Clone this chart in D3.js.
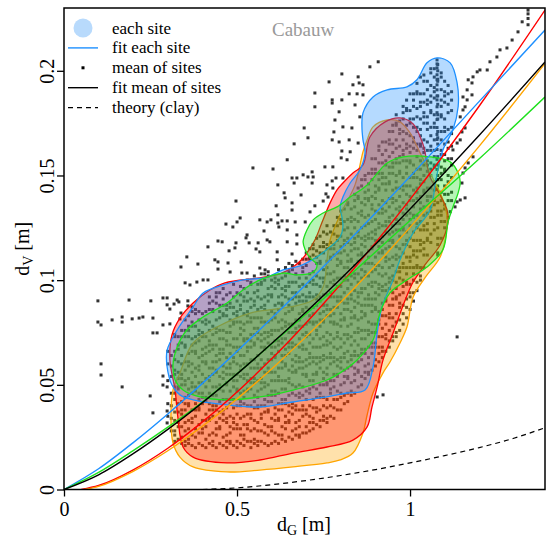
<!DOCTYPE html>
<html>
<head>
<meta charset="utf-8">
<script src="https://cdn.jsdelivr.net/npm/d3@7"></script>
<style>
  body { margin: 0; background: #fff; }
  svg text { font-family: "Liberation Serif", Tinos, "Times New Roman", "DejaVu Serif", serif; }
</style>
</head>
<body>
<svg id="chart" width="550" height="544"></svg>
<script>
'use strict';

// ---- data ----

// scattered "mean of sites" points outside the dense core, [dG, dV] in m
const outerPoints = [
  [0.884,0.2019],[0.908,0.2043],[0.803,0.1985],[0.850,0.1971],[0.766,0.1947],[0.835,0.1933],[0.853,0.1942],
  [0.864,0.1933],[0.725,0.1894],[0.824,0.189],[0.847,0.189],[0.864,0.1885],[0.775,0.1861],[0.775,0.1846],
  [0.803,0.1861],[0.725,0.1828],[0.841,0.1837],[0.795,0.1804],[0.855,0.178],[0.783,0.1765],[0.806,0.1732],
  [0.832,0.1727],[0.694,0.1727],[0.780,0.1708],[0.775,0.167],[0.705,0.168],[0.795,0.166],[0.824,0.167],
  [0.850,0.1655],[0.665,0.1651],[0.803,0.1617],[0.827,0.1613],[0.801,0.1584],[0.645,0.1575],[0.818,0.1575],
  [0.546,0.1536],[0.604,0.1531],[0.754,0.1541],[0.777,0.1541],[0.717,0.1517],[0.705,0.1493],[0.720,0.1493],
  [0.659,0.1488],[0.673,0.1488],[0.691,0.1503],[0.618,0.1455],[0.665,0.1464],[0.717,0.1464],[0.786,0.1488],
  [0.775,0.1474],[0.806,0.1488],[0.760,0.1455],[0.777,0.144],[0.636,0.1417],[0.685,0.1407],[0.757,0.1412],
  [0.749,0.1378],[0.763,0.1397],[0.639,0.1393],[0.659,0.1369],[0.497,0.1378],[0.613,0.1355],[0.725,0.1355],
  [0.711,0.1326],[0.659,0.1335],[0.618,0.1312],[0.630,0.1283],[0.645,0.1283],[0.668,0.1278],[0.697,0.1278],
  [0.618,0.1273],[0.621,0.1254],[0.598,0.1288],[0.587,0.1278],[0.566,0.1288],[0.509,0.1297],[0.500,0.1278],
  [0.468,0.1268],[0.488,0.1254],[0.578,0.1235],[0.645,0.124],[0.529,0.1216],[0.673,0.1216],[0.526,0.1202],
  [0.587,0.1192],[0.645,0.1183],[0.445,0.1187],[0.457,0.1183],[0.497,0.1178],[0.561,0.1178],[0.595,0.1183],
  [0.535,0.1178],[0.673,0.1173],[0.416,0.1159],[0.494,0.1154],[0.555,0.1149],[0.566,0.1135],[0.477,0.114],
  [0.616,0.1135],[0.659,0.1125],[0.355,0.1111],[0.436,0.1097],[0.445,0.1087],[0.616,0.1097],[0.512,0.1087],
  [0.474,0.1082],[0.387,0.1077],[0.338,0.1063],[0.566,0.1058],[0.581,0.1049],[0.445,0.1053],[0.480,0.1039],
  [0.514,0.1034],[0.529,0.1034],[0.402,0.1001],[0.416,0.1001],[0.384,0.0991],[0.350,0.0987],[0.364,0.0977],
  [0.298,0.0915],[0.286,0.0915],[0.188,0.0905],[0.251,0.0901],[0.327,0.0905],[0.332,0.0896],[0.098,0.0901],
  [0.298,0.0882],[0.306,0.0862],[0.318,0.0886],[0.358,0.0901],[0.358,0.0877],[0.370,0.0872],[0.338,0.0843],
  [0.098,0.08],[0.107,0.0786],[0.139,0.081],[0.168,0.0824],[0.168,0.08],[0.197,0.0815],[0.217,0.0819],
  [0.228,0.0824],[0.257,0.0819],[0.286,0.0786],[0.306,0.0791],[0.257,0.0748],[0.269,0.0748],[0.335,0.0815],
  [0.107,0.06],[0.107,0.0547],[0.168,0.049],[0.249,0.0447],[0.257,0.0366],[0.286,0.0542],[0.286,0.0499],
  [0.298,0.049],[0.298,0.0375],[0.298,0.0318],
  [1.341,0.229],[1.341,0.2272],[1.341,0.225],[1.341,0.222],[1.324,0.2234],[1.312,0.2186],[1.295,0.2147],
  [1.280,0.2109],[1.260,0.21],[1.251,0.2066],[1.231,0.2043],[1.223,0.2004],[1.202,0.2004],[1.194,0.1995],
  [1.182,0.1971],[1.168,0.1957],[1.179,0.1942],[1.165,0.1909],[1.179,0.1885],[1.153,0.1875],[1.165,0.1861],
  [1.159,0.1828],[1.153,0.1813],[1.145,0.178],[1.159,0.1727],[1.150,0.1708],[1.145,0.167],[1.136,0.1655],
  [1.124,0.1622],[1.182,0.1589],[1.168,0.156],[1.159,0.1536],[1.153,0.1512],[1.150,0.1464],[1.159,0.1393],
  [1.145,0.1383],[1.136,0.1374],[1.130,0.135],[1.116,0.1327],[1.136,0.0729],[0.905,0.0442],[0.922,0.0452],
  [1.078,0.2052],[1.078,0.2033],[1.078,0.2014],[1.078,0.1981],[1.078,0.1957],[1.078,0.1933],[1.078,0.1909],
  [1.078,0.188],[1.078,0.1861],[1.078,0.1828],[1.078,0.18],[1.078,0.1767],[1.078,0.1729],[1.078,0.1696],
  [1.078,0.1672],[1.078,0.1624],[1.078,0.1577],[1.078,0.1529],[1.078,0.1481],[1.078,0.1433]
];

// dense core of "mean of sites": one dG column each, dV values in mm
const cloudG = [
  0.30,0.31,0.32,0.33,0.34,0.35,0.36,0.37,0.38,0.39,0.40,0.41,0.42,0.43,0.44,0.45,0.46,0.47,0.48,0.49,
  0.50,0.51,0.52,0.53,0.54,0.55,0.56,0.57,0.58,0.59,0.60,0.61,0.62,0.63,0.64,0.65,0.66,0.67,0.68,0.69,
  0.70,0.71,0.72,0.73,0.74,0.75,0.76,0.77,0.78,0.79,0.80,0.81,0.82,0.83,0.84,0.85,0.86,0.87,0.88,0.89,
  0.90,0.91,0.92,0.93,0.94,0.95,0.96,0.97,0.98,0.99,1.00,1.01,1.02,1.03,1.04,1.05,1.06,1.07,1.08,1.09,
  1.10,1.11,1.12
];
const cloudV = [
  "35 41 52 60 66",
  "28 34 40 46 54 59 64",
  "23 26 28 33 37 43 46 49 55 57 62 66 73 74",
  "24 30 32 37 41 48 49 53 56 61 67 69 73",
  "22 25 30 36 38 42 50 53 55 60 64 70 73 76",
  "21 23 28 32 38 41 44 50 52 57 61 68 69 73 76 81",
  "22 24 29 33 40 41 45 48 53 59 61 65 73 76 78 83",
  "21 26 32 34 38 46 49 51 56 60 66 69 72 78 80 85",
  "20 25 29 35 38 41 47 49 54 58 65 66 70 73 78 84 86",
  "22 27 31 38 39 43 46 51 57 59 63 71 74 76 81 85",
  "21 27 29 33 41 44 46 51 55 61 64 67 73 75 80 84",
  "20 24 30 33 36 42 44 49 53 60 61 65 68 73 79 81 85",
  "22 26 33 34 38 41 46 52 54 58 66 69 71 76 80 86 89 92",
  "21 23 27 35 38 40 45 49 55 58 61 67 69 74 78 85 86 90",
  "20 26 29 32 38 40 45 49 56 57 61 64 69 75 77 81 89 92 94",
  "22 29 30 34 37 42 48 50 54 62 65 67 72 76 82 85 88 94",
  "21 25 33 36 38 43 47 53 56 59 65 67 72 76 83 84 88 91 96",
  "20 23 26 32 34 39 43 50 51 55 58 63 69 71 75 83 86 88 93",
  "22 23 27 30 35 41 43 47 55 58 60 65 69 75 78 81 87 89 94",
  "21 29 32 34 39 43 49 52 55 61 63 68 72 79 80 84 87 92 98",
  "20 23 29 31 36 40 47 48 52 55 60 66 68 72 80 83 85 90 94",
  "22 26 29 34 40 42 46 54 57 59 64 68 74 77 80 86 88 93 97",
  "21 24 26 31 35 41 44 47 53 55 60 64 71 72 76 79 84 90 92 96",
  "23 29 31 36 40 47 48 52 55 60 66 68 72 80 83 85 90 94 100",
  "20 23 28 34 36 40 48 51 53 58 62 68 71 74 80 82 87 91 98 99",
  "22 24 29 33 39 42 45 51 53 58 62 69 70 74 77 82 88 90 94 102",
  "21 23 28 32 39 40 44 47 52 58 60 64 72 75 77 82 86 92 95 98",
  "23 28 34 36 40 48 51 53 58 62 68 71 74 80 82 87 91 98 99 103",
  "22 27 31 37 40 43 49 51 56 60 67 68 72 75 80 86 88 92 100 103",
  "21 26 30 37 38 42 45 50 56 58 62 70 73 75 80 84 90 93 96 102 104",
  "22 28 30 34 42 45 47 52 56 62 65 68 74 76 81 85 92 93 97 100",
  "23 27 33 36 39 45 47 52 56 63 64 68 71 76 82 84 88 96 99 101",
  "22 26 33 34 38 41 46 52 54 58 66 69 71 76 80 86 89 92 98 100 105",
  "24 26 30 38 41 43 48 52 58 61 64 70 72 77 81 88 89 93 96 101",
  "23 29 32 35 41 43 48 52 59 60 64 67 72 78 80 84 92 95 97 102 106",
  "25 32 33 37 40 45 51 53 57 65 68 70 75 79 85 88 91 97 99 104 108",
  "24 28 36 39 41 46 50 56 59 62 68 70 75 79 86 87 91 94 99 105 107",
  "26 29 32 38 40 45 49 56 57 61 64 69 75 77 81 89 92 94 99 103 109",
  "25 26 30 33 38 44 46 50 58 61 63 68 72 78 81 84 90 92 97 101 108",
  "27 35 38 40 45 49 55 58 61 67 69 74 78 85 86 90 93 98 104 106 110",
  "27 30 36 38 43 47 54 55 59 62 67 73 75 79 87 90 92 97 101 107 110 113",
  "28 32 35 40 46 48 52 60 63 65 70 74 80 83 86 92 94 99 103 110 111 115",
  "29 32 34 39 43 49 52 55 61 63 68 72 79 80 84 87 92 98 100 104 112 115 117",
  "31 37 39 44 48 55 56 60 63 68 74 76 80 88 91 93 98 102 108 111 114 120",
  "30 33 38 44 46 50 58 61 63 68 72 78 81 84 90 92 97 101 108 109 113 116 121",
  "33 35 40 44 50 53 56 62 64 69 73 80 81 85 88 93 99 101 105 113 116 118 123",
  "32 34 39 43 50 51 55 58 63 69 71 75 83 86 88 93 97 103 106 109 115 117 122 126",
  "35 40 46 48 52 60 63 65 70 74 80 83 86 92 94 99 103 110 111 115 118 123",
  "34 39 43 49 52 55 61 63 68 72 79 80 84 87 92 98 100 104 112 115 117 122 126",
  "38 43 47 54 55 59 62 67 73 75 79 87 90 92 97 101 107 110 113 119 121 126 130",
  "38 44 46 50 58 61 63 68 72 78 81 84 90 92 97 101 108 109 113 116 121 127 129 133",
  "41 45 51 54 57 63 65 70 74 81 82 86 89 94 100 102 106 114 117 119 124 128 134",
  "42 46 53 54 58 61 66 72 74 78 86 89 91 96 100 106 109 112 118 120 125 129 136 137",
  "45 47 51 59 62 64 69 73 79 82 85 91 93 98 102 109 110 114 117 122 128 130 134",
  "46 52 55 58 64 66 71 75 82 83 87 90 95 101 103 107 115 118 120 125 129 135 138 141",
  "49 56 57 61 64 69 75 77 81 89 92 94 99 103 109 112 115 121 123 128 132 139 140 144",
  "50 54 62 65 67 72 76 82 85 88 94 96 101 105 112 113 117 120 125 131 133 137 145 148",
  "53 56 59 65 67 72 76 83 84 88 91 96 102 104 108 116 119 121 126 130 136 139 142 148 150",
  "55 56 60 63 68 74 76 80 88 91 93 98 102 108 111 114 120 122 127 131 138 139 143 146 151",
  "57 65 68 70 75 79 85 88 91 97 99 104 108 115 116 120 123 128 134 136 140 148 151 153 158",
  "59 62 68 70 75 79 86 87 91 94 99 105 107 111 119 122 124 129 133 139 142 145 151 153 158",
  "61 65 68 73 79 81 85 93 96 98 103 107 113 116 119 125 127 132 136 143 144 148 151 156 162 164",
  "63 66 68 73 77 83 86 89 95 97 102 106 113 114 118 121 126 132 134 138 146 149 151 156 160 166",
  "66 72 74 79 83 90 91 95 98 103 109 111 115 123 126 128 133 137 143 146 149 155 157 162 166",
  "68 71 76 82 84 88 96 99 101 106 110 116 119 122 128 130 135 139 146 147 151 154 159 165 167 171",
  "71 73 78 82 88 91 94 100 102 107 111 118 119 123 126 131 137 139 143 151 154 156 161 165 171 174",
  "73 75 80 84 91 92 96 99 104 110 112 116 124 127 129 134 138 144 147 150 156 158 163 167 174 175 179",
  "76 81 87 89 93 101 104 106 111 115 121 124 127 133 135 140 144 151 152 156 159 164 170 172 176",
  "79 84 88 94 97 100 106 108 113 117 124 125 129 132 137 143 145 149 157 160 162 167 171 177 180 183",
  "82 87 91 98 99 103 106 111 117 119 123 131 134 136 141 145 151 154 157 163 165 170 174 181 182 186",
  "86 92 94 98 106 109 111 116 120 126 129 132 138 140 145 149 156 157 161 164 169 175 177 181 189",
  "90 94 100 103 106 112 114 119 123 130 131 135 138 143 149 151 155 163 166 168 173 177 183 186 189",
  "95 99 106 107 111 114 119 125 127 131 139 142 144 149 153 159 162 165 171 173 178 182 189 190 194",
  "100 102 106 114 117 119 124 128 134 137 140 146 148 153 157 164 165 169 172 177 183 185 189 197",
  "106 112 115 118 124 126 131 135 142 143 147 150 155 161 163 167 175 178 180 185 189 195 198",
  "112 119 120 124 127 132 138 140 144 152 155 157 162 166 172 175 178 184 186 191 195",
  "118 122 130 133 135 140 144 150 153 156 162 164 169 173 180 181 185 188 193 199 201",
  "124 127 130 136 138 143 147 154 155 159 162 167 173 175 179 187 190 192 197 201",
  "112 113 117 120 125 131 133 137 145 148 150 155 159 165 168 171 177 179 184 188 195 196 200 203",
  "120 128 131 133 138 142 148 151 154 160 162 167 171 178 179 183 186 191 197 199",
  "125 128 134 136 141 145 152 153 157 160 165 171 173 177 185 188 190 195",
  "130 138 141 147 150 158 163 166 172 180 184 189 193",
  "138 142 149 155 158 164 170 173 181 186 190"
];

// density contour of each site, [dG, dV]
const contourOrange = [
  [0.315,0.0475],[0.335,0.0557],[0.373,0.07],[0.442,0.0776],[0.538,0.0843],[0.653,0.0872],[0.720,0.0905],
  [0.749,0.0968],[0.760,0.1097],[0.769,0.1192],[0.798,0.1312],[0.841,0.1455],[0.864,0.1613],[0.876,0.167],
  [0.893,0.1732],[0.934,0.1765],[0.971,0.1756],[1.0,0.1703],[1.029,0.1608],[1.058,0.1512],[1.092,0.1397],
  [1.107,0.1302],[1.104,0.1216],[1.087,0.1111],[1.043,0.1011],[1.009,0.092],[0.991,0.0776],[0.971,0.07],
  [0.942,0.0609],[0.922,0.0557],[0.893,0.0461],[0.876,0.0356],[0.864,0.027],[0.835,0.0174],[0.798,0.0141],
  [0.760,0.0127],[0.662,0.0108],[0.566,0.0093],[0.471,0.0084],[0.373,0.0108],[0.335,0.0155],[0.315,0.0222],
  [0.309,0.0346]
];
const contourRed = [
  [0.864,0.155],[0.884,0.1684],[0.928,0.1756],[0.971,0.1775],[1.009,0.1746],[1.038,0.1646],[1.058,0.1493],
  [1.087,0.1407],[1.107,0.1335],[1.110,0.1278],[1.087,0.1168],[1.043,0.1073],[1.009,0.0991],[0.986,0.0905],
  [0.951,0.0748],[0.922,0.0619],[0.905,0.049],[0.890,0.0394],[0.876,0.0299],[0.835,0.0236],[0.760,0.0203],
  [0.662,0.0174],[0.566,0.0141],[0.471,0.0127],[0.373,0.0155],[0.344,0.0203],[0.329,0.0346],[0.321,0.0475],
  [0.306,0.0619],[0.312,0.0738],[0.335,0.0819],[0.373,0.0891],[0.422,0.0953],[0.465,0.0987],[0.566,0.1011],
  [0.624,0.1030],[0.662,0.1063],[0.691,0.1106],[0.725,0.1192],[0.746,0.1278],[0.769,0.1369],[0.789,0.1431],
  [0.806,0.1464],[0.835,0.1512]
];
const contourBlue = [
  [0.864,0.167],[0.861,0.1732],[0.864,0.1799],[0.893,0.1875],[0.934,0.1909],[0.991,0.1923],[1.020,0.1957],
  [1.049,0.2038],[1.078,0.2062],[1.116,0.2038],[1.136,0.1942],[1.139,0.1828],[1.124,0.1718],[1.095,0.1622],
  [1.075,0.1479],[1.058,0.1335],[1.009,0.1226],[0.971,0.1097],[0.951,0.1001],[0.919,0.0872],[0.905,0.0748],
  [0.893,0.0585],[0.870,0.0475],[0.818,0.0461],[0.760,0.0442],[0.662,0.0418],[0.566,0.0394],[0.471,0.0404],
  [0.373,0.0428],[0.335,0.0452],[0.312,0.0499],[0.298,0.0585],[0.298,0.0666],[0.327,0.0762],[0.373,0.0872],
  [0.402,0.0939],[0.460,0.0977],[0.517,0.1001],[0.587,0.1015],[0.633,0.1049],[0.682,0.1068],[0.731,0.1111],
  [0.769,0.1159],[0.798,0.1206],[0.806,0.1254],[0.803,0.1302],[0.798,0.135],[0.806,0.1397],[0.827,0.1464],
  [0.855,0.1526],[0.870,0.1608]
];
const contourGreen = [
  [0.315,0.0595],[0.327,0.0681],[0.355,0.0762],[0.402,0.0824],[0.471,0.0891],[0.517,0.0953],[0.566,0.1001],
  [0.633,0.1034],[0.673,0.1025],[0.720,0.1039],[0.731,0.1073],[0.711,0.1106],[0.697,0.1145],[0.691,0.1183],
  [0.702,0.124],[0.720,0.1288],[0.749,0.1321],[0.789,0.135],[0.827,0.1397],[0.876,0.1455],[0.934,0.156],
  [0.980,0.1589],[1.058,0.1589],[1.116,0.1565],[1.139,0.1512],[1.145,0.1469],[1.139,0.1417],[1.124,0.135],
  [1.110,0.1278],[1.095,0.1145],[1.049,0.1063],[0.991,0.1001],[0.942,0.0939],[0.913,0.0843],[0.902,0.0762],
  [0.893,0.0714],[0.847,0.0619],[0.798,0.0557],[0.760,0.0523],[0.662,0.0475],[0.566,0.0442],[0.471,0.0428],
  [0.393,0.0442],[0.344,0.0475],[0.321,0.0523]
];

// fitted curves, [dG, dV]
const fitBlue = [[0,0],[0.1,0.0099],[0.2,0.0224],[0.3,0.0361],[0.4,0.0507],[0.6,0.0818],[0.8,0.1149],[1.0,0.1495],[1.2,0.1854],[1.39,0.2195]];
const fitRed = [[0.05,0],[0.1,0.0019],[0.2,0.0094],[0.3,0.0197],[0.4,0.0323],[0.6,0.0624],[0.8,0.0982],[1.0,0.1386],[1.2,0.1832],[1.39,0.229]];
const fitOrange = [[0.06,0],[0.1,0.0015],[0.2,0.0087],[0.3,0.0185],[0.4,0.0302],[0.6,0.0576],[0.8,0.0895],[1.0,0.1252],[1.2,0.164],[1.39,0.2035]];
const fitGreen = [[0,0],[0.1,0.0082],[0.2,0.0186],[0.3,0.0298],[0.4,0.0418],[0.6,0.0695],[0.8,0.0985],[1.0,0.1285],[1.2,0.158],[1.39,0.1875]];
const fitMean = [[0,0],[0.1,0.007],[0.2,0.0171],[0.3,0.0287],[0.4,0.0415],[0.6,0.0697],[0.8,0.1007],[1.0,0.134],[1.2,0.1692],[1.39,0.2042]];
const theoryClay = [[0.4,0],[0.5,0.0008],[0.6,0.0023],[0.7,0.0043],[0.8,0.0067],[0.9,0.0095],[1.0,0.0127],[1.1,0.0162],[1.2,0.0200],[1.3,0.0245],[1.39,0.0295]];

const xTicks = [0, 0.5, 1];
const yTicks = [0, 0.05, 0.1, 0.15, 0.2];
const legendLabels = ['each site', 'fit each site', 'mean of sites', 'fit mean of sites', 'theory (clay)'];

// ---- drawing ----

const svg = d3.select('#chart');
const plotLeft = 64, plotRight = 545, plotTop = 8, plotBottom = 489.5;
const x = d3.scaleLinear().domain([0, 1.39]).range([plotLeft, plotRight]);
const y = d3.scaleLinear().domain([0, 0.23]).range([plotBottom, plotTop]);

svg.append('defs').append('clipPath').attr('id', 'plot-clip')
  .append('rect').attr('x', plotLeft).attr('y', plotTop)
  .attr('width', plotRight - plotLeft).attr('height', plotBottom - plotTop);

const plot = svg.append('g').attr('clip-path', 'url(#plot-clip)');

// points first, the translucent contours lie on top of them
const points = outerPoints.slice();
cloudG.forEach((g, i) => {
  cloudV[i].split(' ').forEach(v => points.push([g, +v / 1000]));
});

plot.append('g').selectAll('rect')
  .data(points)
  .join('rect')
  .attr('x', d => x(d[0]) - 1.5)
  .attr('y', d => y(d[1]) - 1.5)
  .attr('width', 3)
  .attr('height', 3)
  .attr('fill', '#333');

const closed = d3.line()
  .x(d => x(d[0]))
  .y(d => y(d[1]))
  .curve(d3.curveCatmullRomClosed.alpha(0.5));

const contours = [
  { data: contourOrange, color: '#ffa500' },
  { data: contourRed, color: '#ff0000' },
  { data: contourBlue, color: '#1e90ff' },
  { data: contourGreen, color: '#1ee01e' }
];

plot.append('g').selectAll('path')
  .data(contours)
  .join('path')
  .attr('d', d => closed(d.data))
  .attr('fill', d => d.color)
  .attr('fill-opacity', 0.33)
  .attr('stroke', d => d.color)
  .attr('stroke-width', 1.3);

const open = d3.line()
  .x(d => x(d[0]))
  .y(d => y(d[1]))
  .curve(d3.curveMonotoneX);

const fits = [
  { data: fitRed, color: '#ff0000' },
  { data: fitBlue, color: '#1e90ff' },
  { data: fitOrange, color: '#ffa500' },
  { data: fitGreen, color: '#1ee01e' },
  { data: fitMean, color: '#000' }
];

plot.append('g').selectAll('path')
  .data(fits)
  .join('path')
  .attr('d', d => open(d.data))
  .attr('fill', 'none')
  .attr('stroke', d => d.color)
  .attr('stroke-width', 1.4);

plot.append('path')
  .attr('d', open(theoryClay))
  .attr('fill', 'none')
  .attr('stroke', '#000')
  .attr('stroke-width', 1.2)
  .attr('stroke-dasharray', '5,4');

// axes
const serif = '"Liberation Serif", Tinos, "Times New Roman", "DejaVu Serif", serif';

const gx = svg.append('g')
  .attr('transform', `translate(0,${plotBottom})`)
  .call(d3.axisBottom(x).tickValues(xTicks).tickSize(7).tickPadding(5).tickFormat(d => String(d)));
gx.select('.domain').remove();
gx.attr('font-size', 20).attr('font-family', serif);
gx.selectAll('line').attr('stroke-width', 1.3);

const gy = svg.append('g')
  .attr('transform', `translate(${plotLeft},0)`)
  .call(d3.axisLeft(y).tickValues(yTicks).tickSize(7).tickFormat(d => String(d)));
gy.select('.domain').remove();
gy.attr('font-size', 20).attr('font-family', serif);
gy.selectAll('line').attr('stroke-width', 1.3);
gy.selectAll('text')
  .attr('transform', 'rotate(-90)')
  .attr('x', 0)
  .attr('y', -10)
  .attr('dy', 0)
  .attr('text-anchor', 'middle');

svg.append('rect')
  .attr('x', plotLeft).attr('y', plotTop)
  .attr('width', plotRight - plotLeft).attr('height', plotBottom - plotTop)
  .attr('fill', 'none')
  .attr('stroke', '#000')
  .attr('stroke-width', 1.5);

const xLabel = svg.append('text')
  .attr('x', 304).attr('y', 531)
  .attr('text-anchor', 'middle')
  .attr('font-size', 20);
xLabel.append('tspan').text('d');
xLabel.append('tspan').attr('font-size', 14).attr('dy', 4).text('G');
xLabel.append('tspan').attr('dy', -4).text(' [m]');

const yLabel = svg.append('text')
  .attr('transform', `translate(29,${(plotTop + plotBottom) / 2}) rotate(-90)`)
  .attr('text-anchor', 'middle')
  .attr('font-size', 20);
yLabel.append('tspan').text('d');
yLabel.append('tspan').attr('font-size', 14).attr('dy', 4).text('V');
yLabel.append('tspan').attr('dy', -4).text(' [m]');

// site name
svg.append('text')
  .attr('x', 272).attr('y', 36)
  .attr('font-size', 19)
  .attr('fill', '#999')
  .text('Cabauw');

// legend
const legend = svg.append('g').attr('font-size', 17);
const rowY = i => 28 + i * 19.9;

legend.append('circle')
  .attr('cx', 83).attr('cy', rowY(0)).attr('r', 9.5)
  .attr('fill', '#b8dafc');
legend.append('line')
  .attr('x1', 68).attr('x2', 98).attr('y1', rowY(1)).attr('y2', rowY(1))
  .attr('stroke', '#1e90ff').attr('stroke-width', 1.4);
legend.append('rect')
  .attr('x', 81.5).attr('y', rowY(2) - 1.5).attr('width', 3).attr('height', 3)
  .attr('fill', '#000');
legend.append('line')
  .attr('x1', 68).attr('x2', 98).attr('y1', rowY(3)).attr('y2', rowY(3))
  .attr('stroke', '#000').attr('stroke-width', 1.4);
legend.append('line')
  .attr('x1', 68).attr('x2', 98).attr('y1', rowY(4)).attr('y2', rowY(4))
  .attr('stroke', '#000').attr('stroke-width', 1.2).attr('stroke-dasharray', '5,4');

legend.selectAll('text')
  .data(legendLabels)
  .join('text')
  .attr('x', 112)
  .attr('y', (d, i) => rowY(i) + 5.5)
  .text(d => d);
</script>
</body>
</html>
